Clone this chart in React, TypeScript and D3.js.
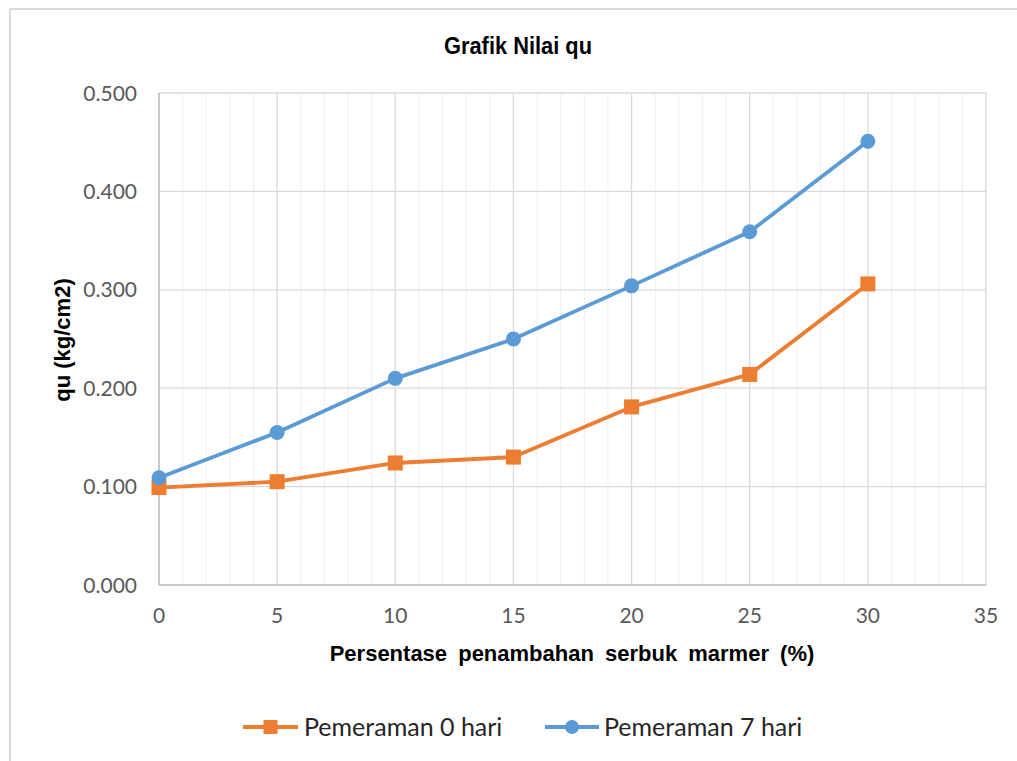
import React from "react";
import * as d3 from "d3";

// Percentage of marble powder added (%)
const percentages = [0, 5, 10, 15, 20, 25, 30];
// qu values (kg/cm2) for each curing period
const cure0Days = [0.099, 0.105, 0.124, 0.130, 0.181, 0.214, 0.306];
const cure7Days = [0.109, 0.155, 0.210, 0.250, 0.304, 0.359, 0.451];
const seriesNames = ["Pemeraman 0 hari", "Pemeraman 7 hari"];
const xTicks = [0, 5, 10, 15, 20, 25, 30, 35];
const yTicks = [0, 0.1, 0.2, 0.3, 0.4, 0.5];

const W = 1017;
const H = 761;
const left = 159;
const right = 986;
const top = 93;
const bottom = 585;

const ORANGE = "#ed7d31";
const BLUE = "#5b9bd5";
const LABEL_FONT = "Lato, 'Open Sans', sans-serif";
const BOLD_FONT = "'Liberation Sans', Arial, sans-serif";

export default function App() {
  const x = d3.scaleLinear().domain([0, 35]).range([left, right]);
  const y = d3.scaleLinear().domain([0, 0.5]).range([bottom, top]);
  const line = d3
    .line<[number, number]>()
    .x((d) => x(d[0]))
    .y((d) => y(d[1]));

  const pts0: [number, number][] = percentages.map((p, i) => [p, cure0Days[i]]);
  const pts7: [number, number][] = percentages.map((p, i) => [p, cure7Days[i]]);
  const minorX = d3.range(0, 36, 1).filter((v) => v % 5 !== 0);

  return (
    <svg
      width={W}
      height={H}
      style={{ position: "absolute", left: 0, top: 0, background: "#fff" }}
    >
      {/* chart frame */}
      <line x1={10} y1={9} x2={W} y2={9} stroke="#d9d9d9" strokeWidth={2} />
      <line x1={10} y1={9} x2={10} y2={H} stroke="#d9d9d9" strokeWidth={2} />

      <text
        x={444}
        y={54}
        fontFamily={BOLD_FONT}
        fontWeight="bold"
        fontSize={24}
        textLength={148}
        lengthAdjust="spacingAndGlyphs"
        fill="#000"
      >
        Grafik Nilai qu
      </text>

      {/* minor vertical grid */}
      {minorX.map((v) => (
        <line key={"mx" + v} x1={x(v)} x2={x(v)} y1={top} y2={bottom} stroke="#efefef" strokeWidth={1} />
      ))}
      {/* major vertical grid */}
      {xTicks.map((v) => (
        <line key={"vx" + v} x1={x(v)} x2={x(v)} y1={top} y2={bottom} stroke="#d9d9d9" strokeWidth={1.3} />
      ))}
      {/* horizontal grid */}
      {yTicks.map((v) => (
        <line key={"hy" + v} x1={left} x2={right} y1={y(v)} y2={y(v)} stroke="#d9d9d9" strokeWidth={1.3} />
      ))}
      {/* axes */}
      <line x1={left} x2={left} y1={top} y2={bottom} stroke="#bfbfbf" strokeWidth={1.5} />
      <line x1={left} x2={right} y1={bottom} y2={bottom} stroke="#bfbfbf" strokeWidth={1.5} />

      {/* y tick labels */}
      {yTicks.map((v) => (
        <text
          key={"yl" + v}
          x={137}
          y={y(v) + 7.5}
          textAnchor="end"
          fontFamily={LABEL_FONT}
          fontSize={21}
          fill="#595959"
        >
          {d3.format(".3f")(v)}
        </text>
      ))}
      {/* x tick labels */}
      {xTicks.map((v) => (
        <text
          key={"xl" + v}
          x={x(v)}
          y={623}
          textAnchor="middle"
          fontFamily={LABEL_FONT}
          fontSize={21}
          fill="#595959"
        >
          {v}
        </text>
      ))}

      {/* axis titles */}
      <text
        x={572}
        y={661}
        textAnchor="middle"
        fontFamily={BOLD_FONT}
        fontWeight="bold"
        fontSize={22}
        wordSpacing={5}
        fill="#000"
      >
        Persentase penambahan serbuk marmer (%)
      </text>
      <text
        transform={`translate(70, 340) rotate(-90)`}
        textAnchor="middle"
        fontFamily={BOLD_FONT}
        fontWeight="bold"
        fontSize={22}
        fill="#000"
      >
        qu (kg/cm2)
      </text>

      {/* series lines */}
      <path d={line(pts0) || ""} fill="none" stroke={ORANGE} strokeWidth={3.8} strokeLinejoin="round" />
      <path d={line(pts7) || ""} fill="none" stroke={BLUE} strokeWidth={3.8} strokeLinejoin="round" />
      {pts0.map((d, i) => (
        <rect key={"s0" + i} x={x(d[0]) - 7.5} y={y(d[1]) - 7.5} width={15} height={15} fill={ORANGE} />
      ))}
      {pts7.map((d, i) => (
        <circle key={"s7" + i} cx={x(d[0])} cy={y(d[1])} r={7.5} fill={BLUE} />
      ))}

      {/* legend */}
      <g>
        <line x1={243} x2={298} y1={727} y2={727} stroke={ORANGE} strokeWidth={3.8} />
        <rect x={263.5} y={720} width={14} height={14} fill={ORANGE} />
        <text x={304} y={736} fontFamily={LABEL_FONT} fontSize={25} fill="#262626">
          {seriesNames[0]}
        </text>
        <line x1={545} x2={599} y1={727} y2={727} stroke={BLUE} strokeWidth={3.8} />
        <circle cx={572} cy={727} r={7} fill={BLUE} />
        <text x={604} y={736} fontFamily={LABEL_FONT} fontSize={25} fill="#262626">
          {seriesNames[1]}
        </text>
      </g>
    </svg>
  );
}
